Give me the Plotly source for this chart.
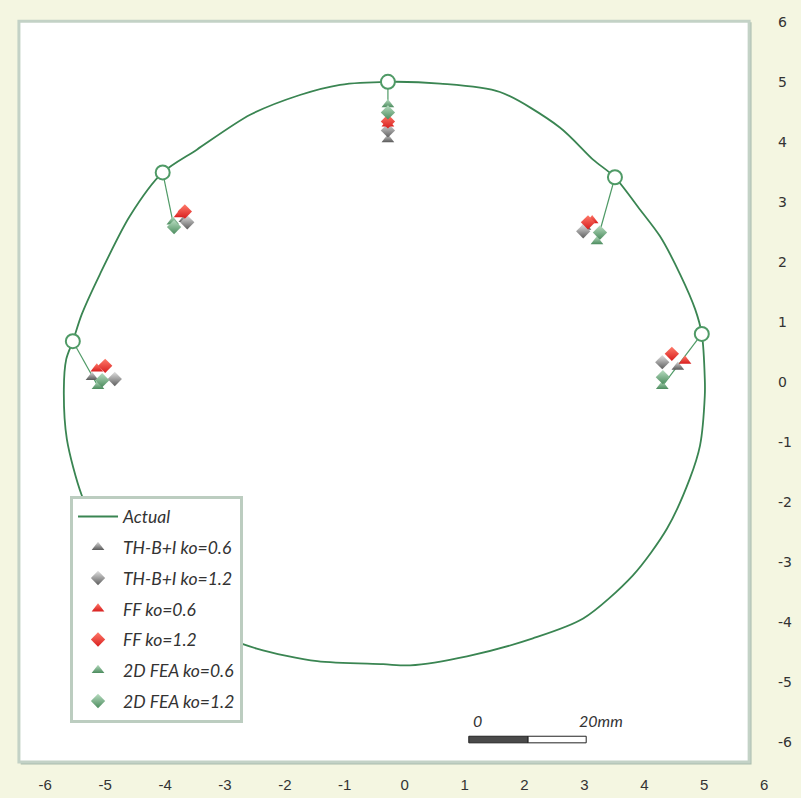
import plotly.graph_objects as go

# Actual excavated profile (m), traced clockwise from the crown
profile_x = [-0.28, 0.59, 1.59, 2.59, 3.15, 3.51, 3.93, 4.26, 4.60, 4.85, 4.96, 5.01, 5.01,
             4.93, 4.76, 4.38, 3.81, 2.98, 2.14, 1.04, 0.09, -0.36, -1.46, -2.47, -3.42,
             -4.34, -5.00, -5.39, -5.64, -5.69, -5.65, -5.54, -5.39, -5.09, -4.59, -4.04,
             -3.47, -2.58, -1.75, -1.08, -0.28]
profile_y = [5.00, 4.97, 4.83, 4.24, 3.70, 3.41, 2.87, 2.43, 1.79, 1.21, 0.80, 0.05, -0.23,
             -1.06, -1.61, -2.44, -3.22, -3.94, -4.27, -4.57, -4.72, -4.70, -4.65, -4.44, -4.07,
             -3.44, -2.69, -1.89, -0.95, -0.12, 0.38, 0.68, 1.13, 1.79, 2.76, 3.49,
             3.87, 4.45, 4.78, 4.95, 5.00]

# Monitoring points: crown, upper-left, upper-right, left wall, right wall
station_x = [-0.28, -4.04, 3.51, -5.54, 4.96]
station_y = [5.00, 3.49, 3.41, 0.68, 0.80]

# Predicted displaced positions at each monitoring point
th06_x = [-0.28, -3.67, 3.01, -5.22, 4.56]
th06_y = [4.04, 2.71, 2.58, 0.08, 0.25]
th12_x = [-0.28, -3.63, 2.98, -4.84, 4.30]
th12_y = [4.19, 2.66, 2.51, 0.05, 0.33]
ff06_x = [-0.28, -3.75, 3.13, -5.14, 4.68]
ff06_y = [4.30, 2.79, 2.69, 0.22, 0.35]
ff12_x = [-0.28, -3.67, 3.06, -5.00, 4.46]
ff12_y = [4.34, 2.84, 2.66, 0.27, 0.47]
fea06_x = [-0.28, -3.87, 3.21, -5.12, 4.30]
fea06_y = [4.62, 2.67, 2.34, -0.07, -0.07]
fea12_x = [-0.28, -3.85, 3.26, -5.05, 4.31]
fea12_y = [4.49, 2.58, 2.49, 0.03, 0.08]

tick_vals = list(range(-6, 7))
tick_text = [str(v) for v in tick_vals]

GREEN = "#3a8552"
TEXT = "#333333"
BG = "#f4f6e1"

fig = go.Figure()

fig.add_trace(go.Scatter(
    x=profile_x, y=profile_y, mode="lines", name="Actual",
    line=dict(color=GREEN, width=1.8, shape="spline", smoothing=0.8), legendgroup="a",
))

# leader lines from each monitoring point to its 2D FEA prediction
lx, ly = [], []
for sx, sy, fx, fy in zip(station_x, station_y, fea06_x, fea06_y):
    lx += [sx, fx, None]
    ly += [sy, fy, None]
fig.add_trace(go.Scatter(
    x=lx, y=ly, mode="lines", showlegend=False, hoverinfo="skip",
    line=dict(color="#4f9a66", width=1.2),
))

fig.add_trace(go.Scatter(
    x=station_x, y=station_y, mode="markers", showlegend=False,
    marker=dict(symbol="circle", size=14, color="white",
                line=dict(color="#4f9a66", width=2)),
))

series = [
    ("TH-B+I ko=0.6", th06_x, th06_y, "triangle-up", "#d9d9d9", "#5a5a5a"),
    ("TH-B+I ko=1.2", th12_x, th12_y, "diamond", "#e0e0e0", "#5e5e5e"),
    ("FF ko=0.6", ff06_x, ff06_y, "triangle-up", "#ff7a6a", "#d81e1e"),
    ("FF ko=1.2", ff12_x, ff12_y, "diamond", "#ff7a6a", "#d81e1e"),
    ("2D FEA ko=0.6", fea06_x, fea06_y, "triangle-up", "#b7dcc0", "#4c8c5e"),
    ("2D FEA ko=1.2", fea12_x, fea12_y, "diamond", "#b7dcc0", "#4c8c5e"),
]
for i, (name, xs, ys, sym, c0, c1) in enumerate(series):
    fig.add_trace(go.Scatter(
        x=xs, y=ys, mode="markers", name=name, legendgroup=f"s{i}",
        marker=dict(symbol=sym, size=11, color=c0,
                    gradient=dict(type="vertical", color=c1),
                    line=dict(width=0)),
    ))

# page frame, shadow and scale bar
shapes = [
    dict(type="rect", xref="x", yref="y", x0=-6.41, x1=5.79, y0=-6.37, y1=5.99,
         fillcolor="#a9bcae", line=dict(width=0), layer="below"),
    dict(type="rect", xref="x", yref="y", x0=-6.44, x1=5.75, y0=-6.33, y1=6.01,
         fillcolor="white", line=dict(color="#c3d2c6", width=3), layer="below"),
    dict(type="rect", xref="x", yref="y", x0=1.07, x1=2.06, y0=-6.01, y1=-5.90,
         fillcolor="#4a4a4a", line=dict(color="#222222", width=1)),
    dict(type="rect", xref="x", yref="y", x0=2.06, x1=3.03, y0=-6.01, y1=-5.90,
         fillcolor="white", line=dict(color="#222222", width=1)),
]
annotations = [
    dict(x=1.10, y=-5.63, xref="x", yref="y", text="0", showarrow=False,
         xanchor="left", font=dict(family="Lato", size=16, color=TEXT, style="italic")),
    dict(x=2.87, y=-5.63, xref="x", yref="y", text="20mm", showarrow=False,
         xanchor="left", font=dict(family="Lato", size=16, color=TEXT, style="italic")),
]

fig.update_layout(
    width=801, height=798, autosize=False,
    margin=dict(l=10, r=36, t=5, b=28),
    paper_bgcolor=BG, plot_bgcolor=BG,
    shapes=shapes, annotations=annotations,
    showlegend=True,
    legend=dict(
        x=0.0795, y=0.357, xanchor="left", yanchor="top",
        bgcolor="white", bordercolor="#bccdc0", borderwidth=3,
        font=dict(family="Lato", size=17.5, color=TEXT, style="italic"),
        tracegroupgap=5, traceorder="grouped", itemwidth=40,
    ),
    xaxis=dict(
        range=[-6.589, 6.015], tickvals=tick_vals, ticktext=tick_text,
        showgrid=False, zeroline=False, showline=False, ticks="",
        ticklabelstandoff=6,
        tickfont=dict(family="Liberation Sans Narrow, Liberation Sans", size=15, color=TEXT),
    ),
    yaxis=dict(
        range=[-6.429, 6.279], tickvals=tick_vals, ticktext=tick_text, side="right",
        showgrid=False, zeroline=False, showline=False, ticks="",
        ticklabelstandoff=12,
        tickfont=dict(family="DejaVu Sans", size=14, color=TEXT),
    ),
)

fig.write_html("out.html")
